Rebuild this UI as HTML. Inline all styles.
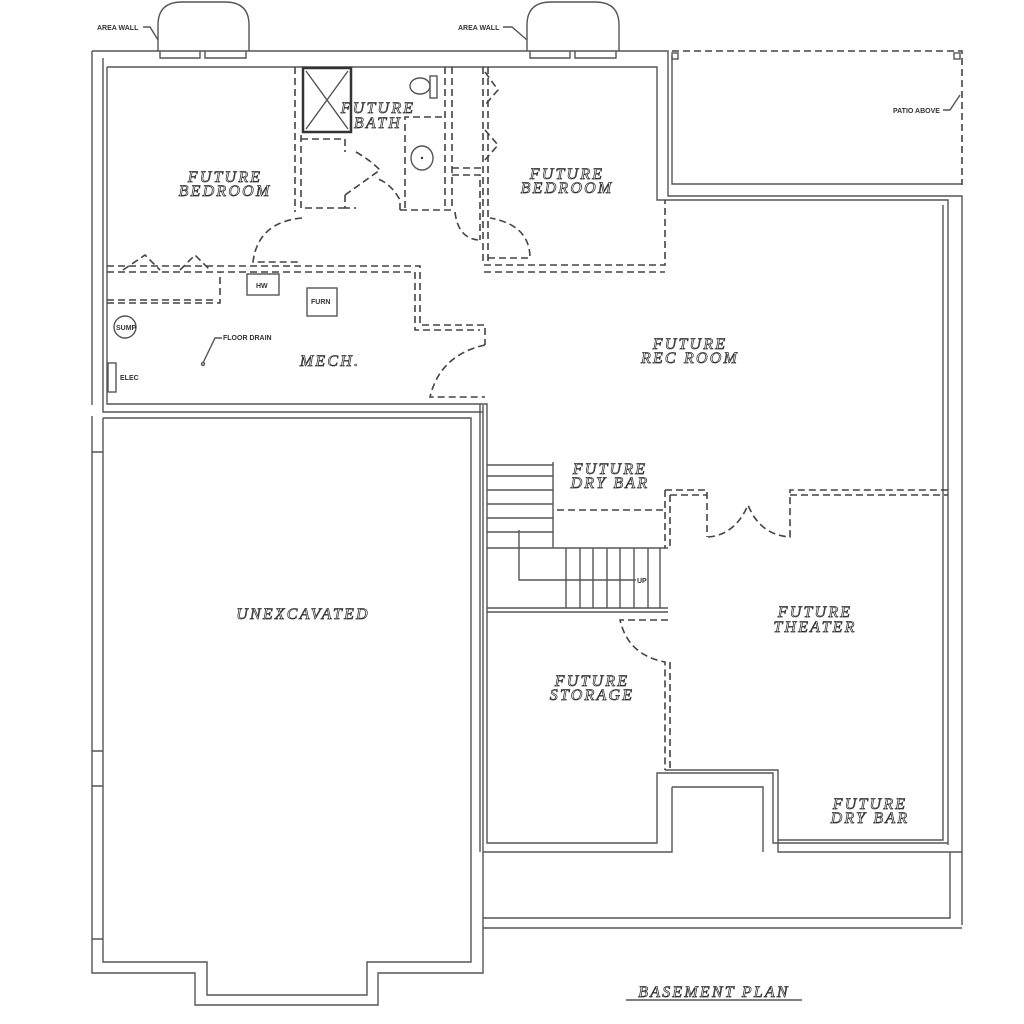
<!DOCTYPE html>
<html><head><meta charset="utf-8"><style>
html,body{margin:0;padding:0;background:#fff;}
svg{display:block}
.w{fill:none;stroke:#555;stroke-width:1.4}
.d{fill:none;stroke:#444;stroke-width:1.6;stroke-dasharray:7 4}
.t{font-family:"Liberation Serif",serif;font-style:italic;font-size:16px;fill:#fff;stroke:#333;stroke-width:0.75;letter-spacing:2.2px;text-anchor:middle}
.s{font-family:"Liberation Sans",sans-serif;font-size:7px;font-weight:bold;fill:#333}
</style></head><body>
<svg width="1024" height="1024" viewBox="0 0 1024 1024" xmlns="http://www.w3.org/2000/svg">
<!-- area wells -->
<path class="w" d="M158 51 V25 Q158 2 182 2 H225 Q249 2 249 25 V51"/>
<path class="w" d="M160 51 V58 H200 V51 M205 51 V58 H246 V51"/>
<path class="w" d="M527 51 V25 Q527 2 551 2 H595 Q619 2 619 25 V51"/>
<path class="w" d="M530 51 V58 H570 V51 M575 51 V58 H616 V51"/>
<text class="s" x="97" y="30">AREA WALL</text><path class="w" d="M143 27 H150 L158 40"/>
<text class="s" x="458" y="30">AREA WALL</text><path class="w" d="M503 27 H512 L527 40"/>
<!-- outer top/left walls upper -->
<path class="w" d="M92 51 H668 V196 H962 V925"/>
<path class="w" d="M103 58 V404 M107 67 H657 V200 H948 V845"/>
<path class="w" d="M92 51 V405"/>
<path class="w" d="M107 67 V404 H487 V843 H657 V773 H773 V843 H948"/>
<path class="w" d="M103 404 V412 H483 M107 412 H483"/>
<path class="w" d="M665 770 H778 V852 H962"/>
<path class="w" d="M672 787 H763 V852 M672 787 V852 H483"/>
<path class="w" d="M480 404 V852 M943 205 V840 H778"/>
<!-- patio -->
<path class="d" d="M672 51 H962 V185"/>
<path class="w" d="M672 56 V184 H962"/>
<rect class="w" x="672" y="53" width="6" height="6"/><rect class="w" x="954" y="53" width="6" height="6"/>
<text class="s" x="893" y="113">PATIO ABOVE</text><path class="w" d="M943 110 H950 L960 95"/>
<!-- unexcavated -->
<path class="w" d="M92 416 V973 H195 V1005 H378 V973 H483 V405"/>
<path class="w" d="M103 418 H471 V962 H367 V995 H207 V962 H103 V418"/>
<path class="w" d="M92 452 H103 M92 751 H103 M92 786 H103 M92 939 H103"/>
<!-- bottom band -->
<path class="w" d="M483 918 H950 V852 M483 928 H962"/>
<!-- bath block -->
<rect x="303" y="68" width="48" height="64" fill="none" stroke="#333" stroke-width="2.5"/>
<path class="w" d="M306 71 L348 129 M348 71 L306 129"/>
<path class="d" d="M295 67 V212 M301 135 V208 H350 M301 139 H345 V152 M345 195 V208 H356"/>
<path class="d" d="M356 152 Q370 160 380 170 L345 195"/>
<path class="d" d="M400 210 V200 Q390 182 375 178"/>
<path class="d" d="M400 210 H452 M405 208 V117 H445 M445 67 V210 M452 67 V210"/>
<ellipse class="w" cx="420" cy="86" rx="10" ry="8"/><rect class="w" x="430" y="76" width="7" height="22"/>
<ellipse class="w" cx="422" cy="158" rx="11" ry="12"/><circle cx="422" cy="158" r="1.2" fill="#333"/>
<!-- closet between -->
<path class="d" d="M452 168 H483 M452 175 H480 V240 M483 67 V265 M488 67 V265"/>
<path class="d" d="M485 72 L498 90 L485 105 M485 130 L498 145 L485 160"/>
<path class="d" d="M455 212 Q458 238 478 240"/>
<!-- right bedroom walls -->
<path class="d" d="M484 265 H665 V200 M484 272 H665 M488 258 H530 Q530 225 490 218"/>
<!-- left bedroom door & closet -->
<path class="d" d="M302 218 Q258 222 253 262 H300"/>
<path class="d" d="M107 266 H420 V325 H485 V345 M107 272 H415 V330 H480"/>
<path class="d" d="M107 303 H220 V272 M107 300 H215"/>
<path class="d" d="M123 270 L145 255 L160 270 M180 270 L195 255 L210 270"/>
<rect class="w" x="247" y="274" width="32" height="21"/><text class="s" x="256" y="288">HW</text>
<rect class="w" x="307" y="288" width="30" height="28"/><text class="s" x="311" y="304">FURN</text>
<circle class="w" cx="125" cy="327" r="11"/><text class="s" x="116" y="330" font-size="6">SUMP</text>
<text class="s" x="223" y="340">FLOOR DRAIN</text><path class="w" d="M222 338 H215 L203 363"/><circle class="w" cx="203" cy="364" r="1.5"/>
<rect class="w" x="108" y="363" width="8" height="29"/><text class="s" x="120" y="380">ELEC</text>
<!-- mech door -->
<path class="d" d="M485 345 Q440 355 430 397 H485"/>
<!-- stairs -->
<path class="w" d="M553 462 V548 M487 548 H668 M487 608 H668 M487 612 H668"/>
<path class="w" d="M487 465 H553 M487 476 H553 M487 490 H553 M487 504 H553 M487 518 H553 M487 532 H553"/>
<path class="w" d="M566 548 V608 M580 548 V608 M593 548 V608 M607 548 V608 M620 548 V608 M634 548 V608 M648 548 V608 M660 548 V608"/>
<path class="w" d="M519 530 V580 H636"/><text class="s" x="637" y="583">UP</text>
<!-- dry bar area -->
<path class="d" d="M557 510 H665 M665 490 V548 M670 495 V548 M665 490 H707 V537 M670 495 H707"/>
<path class="d" d="M708 537 Q735 535 748 505 Q760 535 790 537 V490 H948 M790 495 H948"/>
<!-- storage door -->
<path class="d" d="M668 620 H620 Q628 655 665 662 V770 M670 662 V770"/>
<!-- labels -->
<text class="t" x="225" y="182">FUTURE</text><text class="t" x="225" y="196">BEDROOM</text>
<text class="t" x="378" y="113">FUTURE</text><text class="t" x="378" y="128">BATH</text>
<text class="t" x="567" y="179">FUTURE</text><text class="t" x="567" y="193">BEDROOM</text>
<text class="t" x="690" y="349">FUTURE</text><text class="t" x="690" y="363">REC ROOM</text>
<text class="t" x="330" y="366">MECH.</text>
<text class="t" x="610" y="474">FUTURE</text><text class="t" x="610" y="488">DRY BAR</text>
<text class="t" x="303" y="619">UNEXCAVATED</text>
<text class="t" x="815" y="617">FUTURE</text><text class="t" x="815" y="632">THEATER</text>
<text class="t" x="592" y="686">FUTURE</text><text class="t" x="592" y="700">STORAGE</text>
<text class="t" x="870" y="809">FUTURE</text><text class="t" x="870" y="823">DRY BAR</text>
<text class="t" x="714" y="997">BASEMENT PLAN</text><path class="w" d="M626 1000 H802"/>
</svg>
</body></html>
